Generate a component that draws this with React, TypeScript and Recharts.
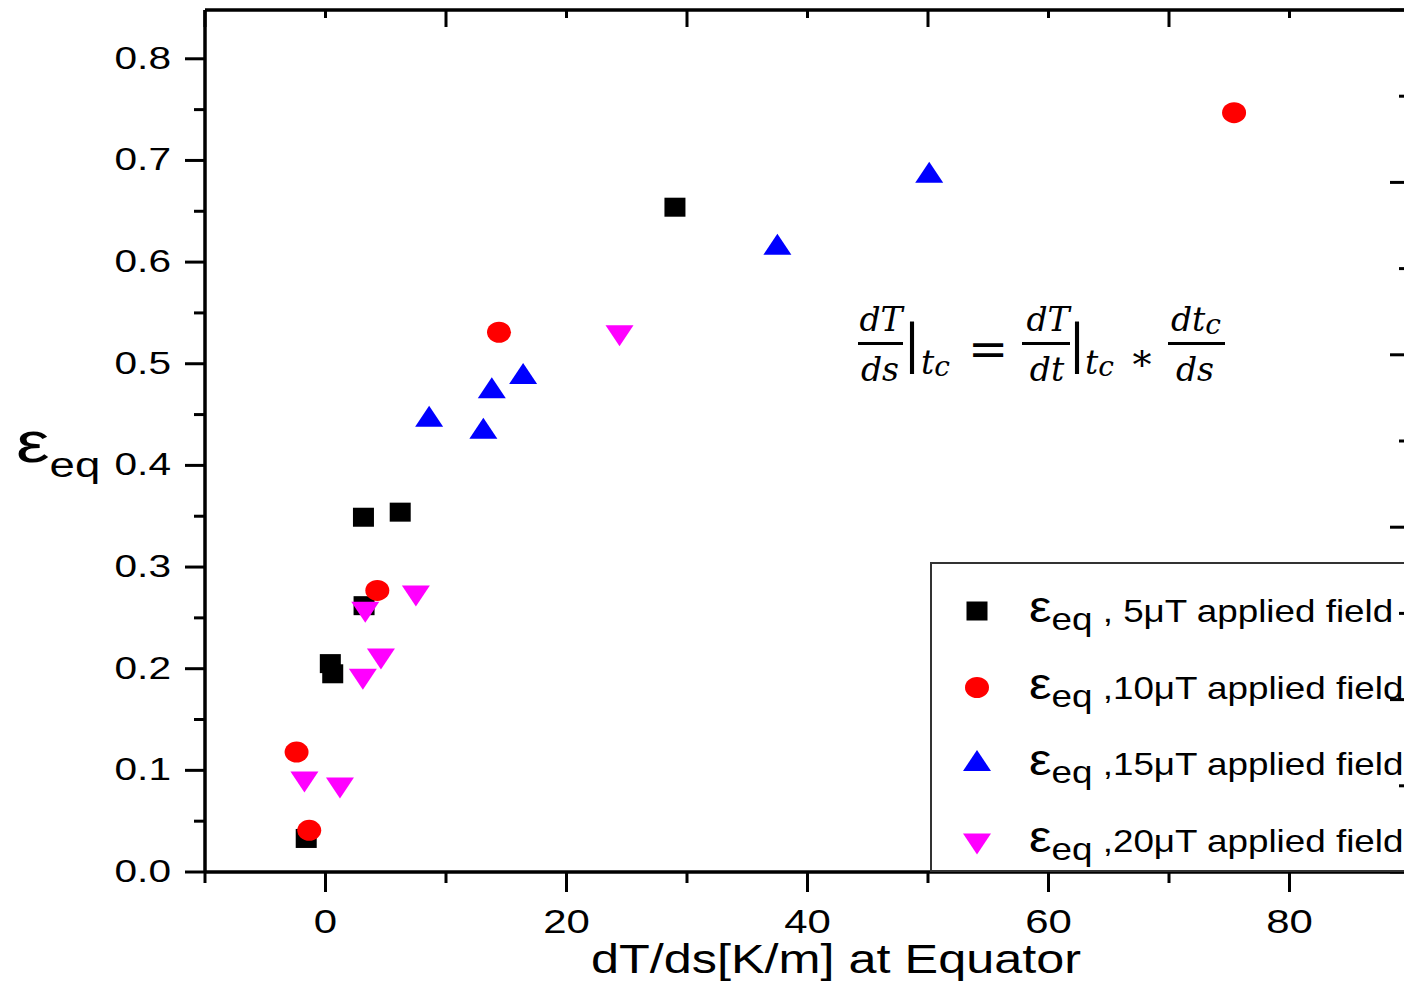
import React from 'react';
import { ScatterChart, Scatter, XAxis, YAxis, Legend } from 'recharts';

// dT/ds [K/m] and eps_eq per applied field
const field5X = [-1.6, 0.4, 0.6, 3.2, 3.15, 6.2, 29.0];
const field5Y = [0.033, 0.205, 0.195, 0.262, 0.349, 0.354, 0.654];
const field10X = [-2.4, -1.35, 4.3, 14.4, 75.4];
const field10Y = [0.118, 0.041, 0.277, 0.531, 0.747];
const field15X = [8.6, 13.1, 13.8, 16.4, 37.5, 50.1];
const field15Y = [0.445, 0.433, 0.473, 0.487, 0.614, 0.685];
const field20X = [-1.75, 1.2, 3.1, 3.3, 4.6, 7.5, 24.4];
const field20Y = [0.092, 0.086, 0.193, 0.259, 0.213, 0.275, 0.531];

const xTicks = [-10, 0, 10, 20, 30, 40, 50, 60, 70, 80, 90];
const yTicks = [0, 0.05, 0.1, 0.15, 0.2, 0.25, 0.3, 0.35, 0.4, 0.45, 0.5, 0.55, 0.6, 0.65, 0.7, 0.75, 0.8];
const rightTicks = [0, 1, 2, 3, 4, 5, 6, 7, 8, 9, 10];

const legendLabels = [' , 5\u03bcT applied field', ' ,10\u03bcT applied field', ' ,15\u03bcT applied field', ' ,20\u03bcT applied field'];

const toPoints = (xs: number[], ys: number[]) => xs.map((x, i) => ({ x, y: ys[i] }));

const series = [
  { name: '5uT', kind: 'square', color: '#000000', data: toPoints(field5X, field5Y), label: legendLabels[0] },
  { name: '10uT', kind: 'circle', color: '#ff0000', data: toPoints(field10X, field10Y), label: legendLabels[1] },
  { name: '15uT', kind: 'up', color: '#0000ff', data: toPoints(field15X, field15Y), label: legendLabels[2] },
  { name: '20uT', kind: 'down', color: '#ff00ff', data: toPoints(field20X, field20Y), label: legendLabels[3] },
];

// frame axes (top / right) get their own invisible series so they are drawn
const framePoints = [{ x: -10, y: 0 }, { x: 90, y: 10 }];

const SANS = '"Liberation Sans", Arial, sans-serif';
const MATH = '"DejaVu Serif", "Liberation Serif", serif';
const TICK_STRETCH = 1.27;

const Marker = ({ kind, cx, cy, fill }: any) => {
  if (cx == null || cy == null) return null;
  switch (kind) {
    case 'square':
      return <rect x={cx - 10.5} y={cy - 9.5} width={21} height={19} fill={fill} />;
    case 'circle':
      return <ellipse cx={cx} cy={cy} rx={12} ry={10.5} fill={fill} />;
    case 'up':
      return <polygon points={`${cx - 14},${cy + 7} ${cx + 14},${cy + 7} ${cx},${cy - 14}`} fill={fill} />;
    default:
      return <polygon points={`${cx - 14},${cy - 7} ${cx + 14},${cy - 7} ${cx},${cy + 14}`} fill={fill} />;
  }
};

const BottomTick = ({ x, y, payload }: any) => {
  const v = payload.value;
  const major = Math.round(v) % 20 === 0;
  return (
    <g transform={`translate(${x},${y})`}>
      <line x1={0} y1={0} x2={0} y2={major ? 20 : 11} stroke="#000" strokeWidth={3} />
      {major && (
        <g transform={`translate(0,61) scale(${TICK_STRETCH},1)`}>
          <text x={0} y={0} textAnchor="middle" fontSize={33} fontFamily={SANS} fill="#000">{v}</text>
        </g>
      )}
    </g>
  );
};

const TopTick = ({ x, y, payload }: any) => {
  const major = Math.abs(Math.round(payload.value / 10)) % 2 === 1;
  return <line x1={x} y1={y} x2={x} y2={y + (major ? 17 : 8)} stroke="#000" strokeWidth={3} />;
};

const LeftTick = ({ x, y, payload }: any) => {
  const v = payload.value;
  const major = Math.round(v * 100) % 10 === 0;
  return (
    <g transform={`translate(${x},${y})`}>
      <line x1={0} y1={0} x2={major ? -20 : -11} y2={0} stroke="#000" strokeWidth={3} />
      {major && (
        <g transform={`translate(-34,10) scale(${TICK_STRETCH},1)`}>
          <text x={0} y={0} textAnchor="end" fontSize={32} fontFamily={SANS} fill="#000">{v.toFixed(1)}</text>
        </g>
      )}
    </g>
  );
};

const RightTick = ({ x, y, payload }: any) => {
  const major = Math.round(payload.value) % 2 === 0;
  return <line x1={x} y1={y} x2={x - (major ? 20 : 11)} y2={y} stroke="#000" strokeWidth={3} />;
};

const XTitle = ({ viewBox }: any) => {
  if (!viewBox) return null;
  return (
    <g transform={`translate(${viewBox.x + 631},${viewBox.y + 101}) scale(1.26,1)`}>
      <text x={0} y={0} textAnchor="middle" fontSize={40} fontFamily={SANS} fill="#000">dT/ds[K/m] at Equator</text>
    </g>
  );
};

const YTitle = ({ viewBox }: any) => {
  if (!viewBox) return null;
  return (
    <g transform={`translate(${viewBox.x + 16},${viewBox.y + 452}) scale(1.3,1)`}>
      <text x={0} y={0} fontFamily={SANS} fill="#000">
        <tspan fontSize={58}>{'\u03b5'}</tspan>
        <tspan fontSize={35} dy={15}>eq</tspan>
      </text>
    </g>
  );
};

const LegendBox = () => (
  <svg width={486} height={306} style={{ display: 'block' }}>
    {series.map((s, i) => (
      <g key={s.name}>
        <Marker kind={s.kind} cx={45} cy={47 + i * 76.5} fill={s.color} />
        <g transform={`translate(97,${58 + i * 76.5}) scale(1.15,1)`}>
          <text x={0} y={0} fontFamily={SANS} fill="#000">
            <tspan fontSize={44}>{'\u03b5'}</tspan>
            <tspan fontSize={32} dy={8}>eq</tspan>
            <tspan fontSize={32} dy={-8}>{s.label}</tspan>
          </text>
        </g>
      </g>
    ))}
  </svg>
);

const Equation = () => (
  <svg width={1404} height={983} style={{ position: 'absolute', left: 0, top: 0, pointerEvents: 'none' }}>
    <g fontFamily={MATH} fontStyle="italic" fill="#000">
      <text x={881} y={331} fontSize={33} textAnchor="middle">dT</text>
      <line x1={858} x2={903} y1={343.5} y2={343.5} stroke="#000" strokeWidth={3} />
      <text x={880} y={381} fontSize={33} textAnchor="middle">ds</text>
      <text x={912} y={362} fontSize={52} fontStyle="normal" textAnchor="middle">|</text>
      <text x={921} y={374} fontSize={33}>t<tspan fontSize={28} dy={2}>c</tspan></text>
      <text x={988} y={366} fontSize={48} fontStyle="normal" textAnchor="middle">=</text>
      <text x={1048} y={331} fontSize={33} textAnchor="middle">dT</text>
      <line x1={1022} x2={1070} y1={343.5} y2={343.5} stroke="#000" strokeWidth={3} />
      <text x={1047} y={381} fontSize={33} textAnchor="middle">dt</text>
      <text x={1077} y={362} fontSize={52} fontStyle="normal" textAnchor="middle">|</text>
      <text x={1085} y={374} fontSize={33}>t<tspan fontSize={28} dy={2}>c</tspan></text>
      <text x={1142} y={378} fontSize={38} fontStyle="normal" textAnchor="middle">*</text>
      <text x={1196} y={331} fontSize={33} textAnchor="middle">dt<tspan fontSize={28} dy={3}>c</tspan></text>
      <line x1={1168} x2={1225} y1={343.5} y2={343.5} stroke="#000" strokeWidth={3} />
      <text x={1195} y={381} fontSize={33} textAnchor="middle">ds</text>
    </g>
  </svg>
);

export default function App() {
  return (
    <div style={{ position: 'absolute', left: 0, top: 0, width: 1404, height: 983, overflow: 'hidden', background: '#fff' }}>
      <ScatterChart width={1420} height={983} margin={{ top: 9, right: 9, bottom: 0, left: 0 }}>
        <XAxis
          xAxisId={0}
          type="number"
          dataKey="x"
          domain={[-10, 90]}
          allowDataOverflow
          ticks={xTicks}
          interval={0}
          height={111}
          tickSize={0}
          tickMargin={0}
          tickLine={false}
          axisLine={{ stroke: '#000', strokeWidth: 3.5 }}
          tick={(p: any) => <BottomTick {...p} />}
          label={(p: any) => <XTitle {...p} />}
        />
        <XAxis
          xAxisId="top"
          orientation="top"
          type="number"
          dataKey="x"
          domain={[-10, 90]}
          allowDataOverflow
          ticks={xTicks}
          interval={0}
          height={1}
          tickSize={0}
          tickMargin={0}
          tickLine={false}
          axisLine={{ stroke: '#000', strokeWidth: 3.5 }}
          tick={(p: any) => <TopTick {...p} />}
        />
        <YAxis
          yAxisId={0}
          type="number"
          dataKey="y"
          domain={[0, 0.848]}
          allowDataOverflow
          ticks={yTicks}
          interval={0}
          width={205}
          tickSize={0}
          tickMargin={0}
          tickLine={false}
          axisLine={{ stroke: '#000', strokeWidth: 3.5 }}
          tick={(p: any) => <LeftTick {...p} />}
          label={(p: any) => <YTitle {...p} />}
        />
        <YAxis
          yAxisId="right"
          orientation="right"
          type="number"
          dataKey="y"
          domain={[0, 10]}
          allowDataOverflow
          ticks={rightTicks}
          interval={0}
          width={1}
          tickSize={0}
          tickMargin={0}
          tickLine={false}
          axisLine={{ stroke: '#000', strokeWidth: 3.5 }}
          tick={(p: any) => <RightTick {...p} />}
        />
        <Legend
          layout="vertical"
          verticalAlign="middle"
          align="center"
          content={() => <LegendBox />}
          wrapperStyle={{ position: 'absolute', left: 930, top: 562, width: 490, height: 310, border: '2px solid #333', boxSizing: 'border-box', margin: 0, padding: 0, background: 'transparent' }}
        />
        {series.map((s) => (
          <Scatter
            key={s.name}
            name={s.name}
            data={s.data}
            fill={s.color}
            xAxisId={0}
            yAxisId={0}
            isAnimationActive={false}
            shape={(p: any) => <Marker kind={s.kind} cx={p.cx} cy={p.cy} fill={s.color} />}
          />
        ))}
        <Scatter
          name="frame"
          data={framePoints}
          xAxisId="top"
          yAxisId="right"
          legendType="none"
          isAnimationActive={false}
          shape={() => <g />}
        />
      </ScatterChart>
      <Equation />
    </div>
  );
}
